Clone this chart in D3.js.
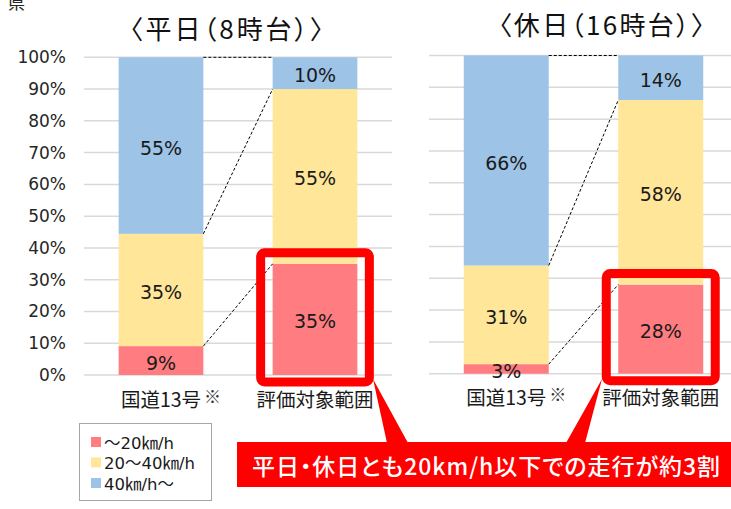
<html>
<head>
<meta charset="utf-8">
<style>
    body { margin: 0; background: white; }
    svg { display: block; font-family: "DejaVu Sans", "Noto Sans CJK JP", sans-serif; }
    .title { font-family: "Noto Sans CJK JP", sans-serif; font-feature-settings: "palt"; }
    .cat { font-family: "Noto Sans CJK JP", sans-serif; }
    .callout { font-family: "Noto Sans CJK JP", sans-serif; font-feature-settings: "palt"; }
</style>
<script src="https://d3js.org/d3.v7.min.js"></script>
</head>
<body>
<script>
    // ---- data ----
    const categories = ["国道13号", "評価対象範囲"]
    const categoryNotes = ["※", ""]
    const seriesNames = ["～20㎞/h", "20～40㎞/h", "40㎞/h～"]
    const seriesColors = ["#ff7c80", "#ffe699", "#9dc3e6"]

    // 平日（8時台）
    const weekdaySlow = [9, 35]
    const weekdayMid = [35, 55]
    const weekdayFast = [55, 10]
    // 休日（16時台）
    const holidaySlow = [3, 28]
    const holidayMid = [31, 58]
    const holidayFast = [66, 14]

    const yTicks = [0, 10, 20, 30, 40, 50, 60, 70, 80, 90, 100]
    const panelTitles = ["〈平日（8時台）〉", "〈休日（16時台）〉"]
    const calloutText = "平日・休日とも20km/h以下での走行が約3割"

    const width = 731, height = 509
    let svg = d3.select("body").append("svg")
        .attr("width", width)
        .attr("height", height)

    // top-left leftover character from the slide
    svg.append("text")
        .attr("x", 8).attr("y", 9)
        .attr("class", "cat")
        .style("font-size", "17px")
        .attr("fill", "#222")
        .text("県")

    let panels = [
        { series: [weekdaySlow, weekdayMid, weekdayFast], title: panelTitles[0],
          x0: 84, x1: 392, y0: 375, y1: 57.3, titleX: 226.5, titleY: 27, titleW: 194, axis: true },
        { series: [holidaySlow, holidayMid, holidayFast], title: panelTitles[1],
          x0: 429, x1: 738, y0: 373.7, y1: 55.5, titleX: 601.5, titleY: 23, titleW: 206, axis: false }
    ]

    let boxes = []
    panels.forEach(p => drawPanel(p))

    function drawPanel(p) {
        let rows = categories.map((c, i) => {
            let r = { cat: c }
            p.series.forEach((s, k) => r[k] = s[i])
            return r
        })
        let stacked = d3.stack()
            .keys([0, 1, 2])
            .offset(d3.stackOffsetExpand)(rows)

        let xScale = d3.scaleBand()
            .domain(categories)
            .range([p.x0, p.x1])
            .paddingInner(0.45)
            .paddingOuter(0.225)
        let yScale = d3.scaleLinear()
            .domain([0, 1])
            .range([p.y0, p.y1])
        let bw = xScale.bandwidth()

        let g = svg.append("g")

        // gridlines
        g.selectAll(".grid").data(yTicks).enter().append("line")
            .attr("x1", p.x0).attr("x2", p.x1)
            .attr("y1", d => yScale(d / 100)).attr("y2", d => yScale(d / 100))
            .attr("stroke", "#d9d9d9")
            .attr("stroke-width", 1.5)

        if (p.axis) {
            let axis = d3.axisLeft(yScale)
                .tickValues(yTicks.map(d => d / 100))
                .tickFormat(d => Math.round(d * 100) + "%")
                .tickSize(0)
                .tickPadding(18)
            let ag = g.append("g")
                .attr("transform", `translate(${p.x0},0)`)
                .call(axis)
            ag.select(".domain").remove()
            ag.selectAll("text")
                .style("font-size", "17px")
                .style("font-family", "'DejaVu Sans', sans-serif")
                .attr("fill", "#262626")
        }

        // bars
        stacked.forEach((layer, k) => {
            g.selectAll(".bar" + k).data(layer).enter().append("rect")
                .attr("x", d => xScale(d.data.cat))
                .attr("width", bw)
                .attr("y", d => yScale(d[1]))
                .attr("height", d => yScale(d[0]) - yScale(d[1]))
                .attr("fill", seriesColors[k])
        })

        // highlight box round the slow part of the second bar
        let hl = stacked[0][1]
        let bx = xScale(categories[1])
        boxes.push({ x: bx - 12, y: yScale(hl[1]) - 11, w: bw + 24, h: p.y0 + 7 - (yScale(hl[1]) - 11) })

        // dashed connectors
        stacked.forEach(layer => {
            g.append("line")
                .attr("x1", xScale(categories[0]) + bw)
                .attr("y1", yScale(layer[0][1]))
                .attr("x2", xScale(categories[1]))
                .attr("y2", yScale(layer[1][1]))
                .attr("stroke", "#000")
                .attr("stroke-width", 1)
                .attr("stroke-dasharray", "3,2")
        })

        // value labels
        stacked.forEach((layer, k) => {
            g.selectAll(".lab" + k).data(layer).enter().append("text")
                .attr("x", d => xScale(d.data.cat) + bw / 2)
                .attr("y", d => (yScale(d[0]) + yScale(d[1])) / 2 + 2)
                .attr("text-anchor", "middle")
                .attr("dominant-baseline", "central")
                .style("font-size", "19px")
                .attr("fill", "#1a1a1a")
                .text(d => d.data[k] + "%")
        })

        // category labels
        categories.forEach((c, i) => {
            let cx = xScale(c) + bw / 2
            let t = g.append("text")
                .attr("class", "cat")
                .attr("x", cx)
                .attr("y", p.y0 + 23)
                .attr("text-anchor", "middle")
                .attr("dominant-baseline", "central")
                .style("font-size", "19.5px")
                .attr("fill", "#1a1a1a")
                .text(c)
            if (categoryNotes[i]) {
                let w = t.node().getComputedTextLength()
                g.append("text")
                    .attr("class", "cat")
                    .attr("x", cx + w / 2 + 3)
                    .attr("y", p.y0 + 20)
                    .attr("dominant-baseline", "central")
                    .style("font-size", "17px")
                    .attr("fill", "#333")
                    .text(categoryNotes[i])
            }
        })

        // panel title
        svg.append("text")
            .attr("class", "title")
            .attr("x", p.titleX)
            .attr("y", p.titleY)
            .attr("text-anchor", "middle")
            .attr("dominant-baseline", "central")
            .attr("textLength", p.titleW)
            .attr("lengthAdjust", "spacing")
            .style("font-size", "26px")
            .attr("fill", "#111")
            .text(p.title)
    }

    // red highlight boxes
    boxes.forEach(b => {
        svg.append("rect")
            .attr("x", b.x).attr("y", b.y)
            .attr("width", b.w).attr("height", b.h)
            .attr("rx", 4)
            .attr("fill", "none")
            .attr("stroke", "#ff0000")
            .attr("stroke-width", 9)
    })

    // callout with pointers
    svg.append("polygon")
        .attr("points", "373,379 387,443 408,443")
        .attr("fill", "#ff0000")
    svg.append("polygon")
        .attr("points", "602,379 566,443 585,443")
        .attr("fill", "#ff0000")
    svg.append("rect")
        .attr("x", 237).attr("y", 442)
        .attr("width", 500).attr("height", 45)
        .attr("fill", "#ff0000")
    svg.append("text")
        .attr("class", "callout")
        .attr("x", 486).attr("y", 465)
        .attr("text-anchor", "middle")
        .attr("dominant-baseline", "central")
        .attr("textLength", 468)
        .attr("lengthAdjust", "spacing")
        .style("font-size", "23px")
        .style("font-weight", "500")
        .attr("fill", "white")
        .text(calloutText)

    // legend
    let legend = svg.append("g")
    legend.append("rect")
        .attr("x", 79.5).attr("y", 423.5)
        .attr("width", 132).attr("height", 77)
        .attr("fill", "white")
        .attr("stroke", "#a6a6a6")
        .attr("stroke-width", 1)
    let items = legend.selectAll(".item").data(seriesNames).enter().append("g")
        .attr("transform", (d, i) => `translate(91,${442 + i * 20.5})`)
    items.append("rect")
        .attr("x", 0).attr("y", -5)
        .attr("width", 10).attr("height", 10)
        .attr("fill", (d, i) => seriesColors[i])
    items.append("text")
        .attr("x", 13)
        .attr("y", 1)
        .attr("dominant-baseline", "central")
        .style("font-size", "16.5px")
        .attr("fill", "#1a1a1a")
        .text(d => d)
</script>
</body>
</html>
